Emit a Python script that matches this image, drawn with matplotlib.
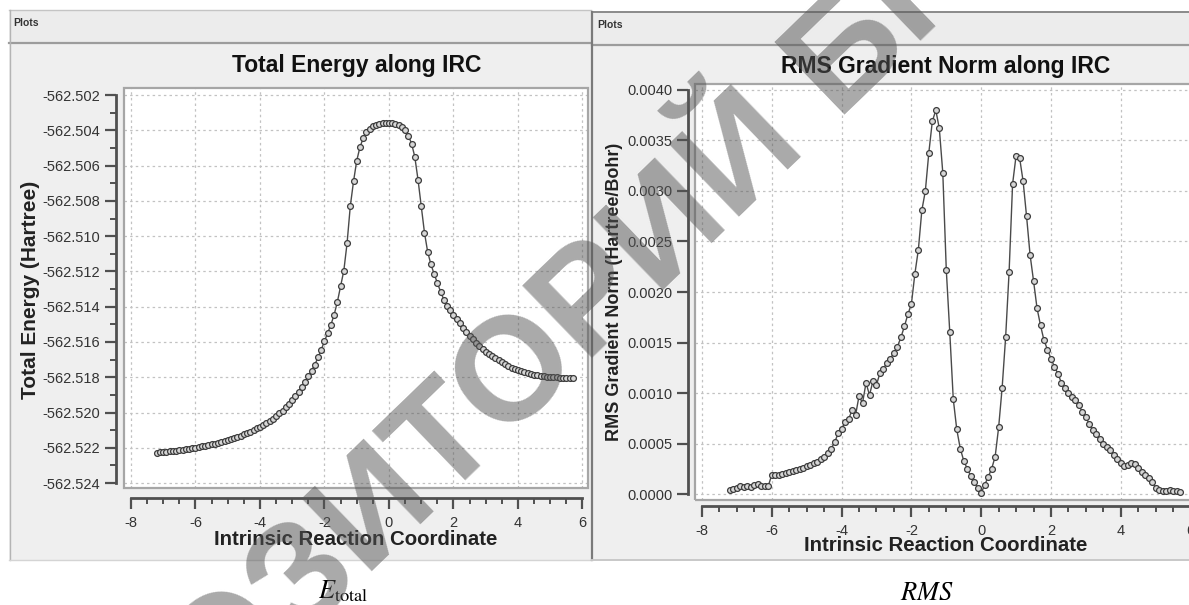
import matplotlib
matplotlib.use('Agg')
import matplotlib.pyplot as plt
from matplotlib.patches import Rectangle
from matplotlib.lines import Line2D
from matplotlib.ticker import MultipleLocator, FormatStrFormatter, FixedLocator

plt.rcParams['font.family'] = ['Liberation Sans', 'DejaVu Sans']
plt.rcParams['axes.unicode_minus'] = False
plt.rcParams['mathtext.fontset'] = 'stix'

# ---------------- data ----------------
IRC = [-7.2, -7.1, -7.0, -6.9, -6.8, -6.7, -6.6, -6.5, -6.4, -6.3,
       -6.2, -6.1, -6.0, -5.9, -5.8, -5.7, -5.6, -5.5, -5.4, -5.3,
       -5.2, -5.1, -5.0, -4.9, -4.8, -4.7, -4.6, -4.5, -4.4, -4.3,
       -4.2, -4.1, -4.0, -3.9, -3.8, -3.7, -3.6, -3.5, -3.4, -3.3,
       -3.2, -3.1, -3.0, -2.9, -2.8, -2.7, -2.6, -2.5, -2.4, -2.3,
       -2.2, -2.1, -2.0, -1.9, -1.8, -1.7, -1.6, -1.5, -1.4, -1.3,
       -1.2, -1.1, -1.0, -0.9, -0.8, -0.7, -0.6, -0.5, -0.4, -0.3,
       -0.2, -0.1, 0.0, 0.1, 0.2, 0.3, 0.4, 0.5, 0.6, 0.7,
       0.8, 0.9, 1.0, 1.1, 1.2, 1.3, 1.4, 1.5, 1.6, 1.7,
       1.8, 1.9, 2.0, 2.1, 2.2, 2.3, 2.4, 2.5, 2.6, 2.7,
       2.8, 2.9, 3.0, 3.1, 3.2, 3.3, 3.4, 3.5, 3.6, 3.7,
       3.8, 3.9, 4.0, 4.1, 4.2, 4.3, 4.4, 4.5, 4.6, 4.7,
       4.8, 4.9, 5.0, 5.1, 5.2, 5.3, 5.4, 5.5, 5.6, 5.7]

E_TOTAL = [-562.52227, -562.52226, -562.52225, -562.52223, -562.52221, -562.52219, -562.52217, -562.52214, -562.52211, -562.52208,
           -562.52205, -562.52202, -562.52199, -562.52196, -562.52192, -562.52188, -562.52184, -562.52180, -562.52176, -562.52172,
           -562.52167, -562.52162, -562.52156, -562.52150, -562.52144, -562.52138, -562.52131, -562.52124, -562.52116, -562.52108,
           -562.52099, -562.52090, -562.52080, -562.52070, -562.52060, -562.52047, -562.52034, -562.52020, -562.52005, -562.51989,
           -562.51971, -562.51952, -562.51931, -562.51909, -562.51884, -562.51856, -562.51825, -562.51793, -562.51762, -562.51728,
           -562.51688, -562.51643, -562.51595, -562.51548, -562.51502, -562.51445, -562.51372, -562.51285, -562.51195, -562.51040,
           -562.50830, -562.50690, -562.50572, -562.50495, -562.50445, -562.50412, -562.50390, -562.50376, -562.50368, -562.50363,
           -562.50361, -562.50360, -562.50360, -562.50361, -562.50364, -562.50370, -562.50382, -562.50400, -562.50430, -562.50475,
           -562.50550, -562.50680, -562.50830, -562.50980, -562.51090, -562.51160, -562.51215, -562.51265, -562.51315, -562.51360,
           -562.51395, -562.51420, -562.51445, -562.51470, -562.51495, -562.51518, -562.51542, -562.51566, -562.51586, -562.51605,
           -562.51624, -562.51642, -562.51655, -562.51667, -562.51680, -562.51693, -562.51705, -562.51716, -562.51726, -562.51736,
           -562.51745, -562.51753, -562.51760, -562.51766, -562.51772, -562.51778, -562.51783, -562.51787, -562.51790, -562.51793,
           -562.51795, -562.51797, -562.51799, -562.51800, -562.51801, -562.51802, -562.51803, -562.51803, -562.51804, -562.51805]

RMS_GRAD = [0.00004, 0.00005, 0.00006, 0.00008, 0.00007, 0.00008, 0.00007, 0.00009, 0.00010, 0.00008,
            0.00008, 0.00008, 0.00019, 0.00019, 0.00019, 0.00020, 0.00021, 0.00022, 0.00023, 0.00024,
            0.00025, 0.00026, 0.00028, 0.00029, 0.00031, 0.00032, 0.00035, 0.00037, 0.00041, 0.00045,
            0.00051, 0.00060, 0.00064, 0.00071, 0.00074, 0.00083, 0.00078, 0.00097, 0.00090, 0.00110,
            0.00098, 0.00112, 0.00108, 0.00120, 0.00124, 0.00130, 0.00134, 0.00140, 0.00146, 0.00155,
            0.00166, 0.00178, 0.00188, 0.00218, 0.00242, 0.00281, 0.00300, 0.00338, 0.00369, 0.00380,
            0.00362, 0.00318, 0.00222, 0.00160, 0.00094, 0.00064, 0.00045, 0.00033, 0.00025, 0.00018,
            0.00012, 0.00006, 0.00001, 0.00009, 0.00017, 0.00025, 0.00037, 0.00066, 0.00105, 0.00155,
            0.00220, 0.00307, 0.00335, 0.00333, 0.00310, 0.00275, 0.00237, 0.00211, 0.00184, 0.00167,
            0.00152, 0.00143, 0.00134, 0.00126, 0.00119, 0.00110, 0.00105, 0.00100, 0.00096, 0.00093,
            0.00088, 0.00081, 0.00076, 0.00069, 0.00063, 0.00059, 0.00054, 0.00050, 0.00047, 0.00044,
            0.00039, 0.00035, 0.00031, 0.00028, 0.00029, 0.00031, 0.00030, 0.00026, 0.00022, 0.00019,
            0.00016, 0.00012, 0.00006, 0.00004, 0.00003, 0.00003, 0.00004, 0.00003, 0.00003, 0.00002]

X_TICKS = [-8, -6, -4, -2, 0, 2, 4, 6]
E_TICKS = [-562.524, -562.522, -562.520, -562.518, -562.516, -562.514, -562.512,
           -562.510, -562.508, -562.506, -562.504, -562.502]
RMS_TICKS = [0.0, 0.0005, 0.0010, 0.0015, 0.0020, 0.0025, 0.0030, 0.0035, 0.0040]

TITLE_E = 'Total Energy along IRC'
TITLE_RMS = 'RMS Gradient Norm along IRC'
XLABEL = 'Intrinsic Reaction Coordinate'
YLABEL_E = 'Total Energy (Hartree)'
YLABEL_RMS = 'RMS Gradient Norm (Hartree/Bohr)'
CAPTION_E = r'$E_{\mathrm{total}}$'
CAPTION_RMS = r'$RMS$'
WATERMARK = 'РЕПОЗИТОРИЙ БГТУ'

# ---------------- figure ----------------
W, H = 1189, 605
fig = plt.figure(figsize=(W / 100, H / 100), dpi=100)
fig.patch.set_facecolor('white')


def fx(x):
    return x / W


def fy(y):
    return 1 - y / H


def rect(x0, y0, x1, y1, **kw):
    fig.add_artist(Rectangle((fx(x0), fy(y1)), (x1 - x0) / W, (y1 - y0) / H,
                             transform=fig.transFigure, **kw))


def hline(x0, x1, y, **kw):
    fig.add_artist(Line2D([fx(x0), fx(x1)], [fy(y), fy(y)], transform=fig.transFigure, **kw))


def vline(x, y0, y1, **kw):
    fig.add_artist(Line2D([fx(x), fx(x)], [fy(y0), fy(y1)], transform=fig.transFigure, **kw))


# window panels
rect(9, 10, 591, 560, facecolor='#efefef', edgecolor='none', zorder=-5)
rect(9, 10, 591, 43, facecolor='#ececec', edgecolor='none', zorder=-4)
hline(9, 591, 10, color='#c4c4c4', lw=1, zorder=-3)
hline(9, 591, 43, color='#9c9c9c', lw=1.6, zorder=-3)
vline(10, 10, 560, color='#b4b4b4', lw=1, zorder=-3)
hline(9, 591, 560, color='#d4d4d4', lw=1, zorder=-3)

rect(592, 12, 1189, 560, facecolor='#efefef', edgecolor='none', zorder=-5)
rect(592, 12, 1189, 45, facecolor='#ececec', edgecolor='none', zorder=-4)
hline(592, 1189, 12, color='#8a8a8a', lw=1.4, zorder=-3)
hline(592, 1189, 45, color='#9c9c9c', lw=1.6, zorder=-3)
vline(592, 12, 560, color='#7a7a7a', lw=1.6, zorder=-3)
hline(592, 1189, 560, color='#c8c8c8', lw=1.4, zorder=-3)

fig.text(fx(13), fy(23), 'Plots', fontsize=7.5, color='#333333', ha='left', va='center',
         fontweight='bold')
fig.text(fx(597), fy(25), 'Plots', fontsize=7.5, color='#333333', ha='left', va='center',
         fontweight='bold')

LINE_KW = dict(color='#4a4a4a', lw=1.0, marker='o', ms=4.2, mfc='#d6d6d6',
               mec='#3c3c3c', mew=0.9, zorder=3)


def style_axes(ax, yticks, yfmt, y_out, x_out, yminor):
    ax.set_facecolor('white')
    ax.grid(True, which='major', color='#c2c2c2', lw=0.9, linestyle=(0, (2, 2.5)))
    ax.set_axisbelow(True)
    for s in ('top', 'right'):
        ax.spines[s].set_visible(False)
    ax.spines['left'].set_position(('outward', y_out))
    ax.spines['bottom'].set_position(('outward', x_out))
    ax.spines['left'].set_bounds(yticks[0], yticks[-1])
    ax.spines['bottom'].set_bounds(X_TICKS[0], X_TICKS[-1])
    for s in ('left', 'bottom'):
        ax.spines[s].set_linewidth(2.0)
        ax.spines[s].set_color('#505050')
    ax.xaxis.set_major_locator(FixedLocator(X_TICKS))
    ax.xaxis.set_minor_locator(MultipleLocator(0.5))
    ax.yaxis.set_major_locator(FixedLocator(yticks))
    if yminor:
        ax.yaxis.set_minor_locator(MultipleLocator(yminor))
    ax.yaxis.set_major_formatter(FormatStrFormatter(yfmt))
    ax.xaxis.set_major_formatter(FormatStrFormatter('%d'))
    ax.tick_params(which='major', direction='out', length=8, width=1.6, color='#505050',
                   labelsize=10.5, labelcolor='#333333')
    ax.tick_params(which='minor', direction='out', length=4.5, width=1.4, color='#505050')
    ax.tick_params(axis='y', which='both', pad=3)
    ax.tick_params(axis='x', which='major', pad=5)
    ax.add_patch(Rectangle((0, 0), 1, 1, transform=ax.transAxes, fill=False,
                           edgecolor='#a6a6a6', lw=1.6, clip_on=False, zorder=4))


# ---- left: total energy ----
axL = fig.add_axes([fx(124), fy(488), (588 - 124) / W, (488 - 88) / H])
axL.set_xlim(-8.217, 6.171)
axL.set_ylim(-562.52428, -562.5016)
axL.plot(IRC, E_TOTAL, **LINE_KW)
style_axes(axL, E_TICKS, '%.3f', 6, 7, 0.001)

fig.text(fx(357), fy(72), TITLE_E, fontsize=16.5, fontweight='bold', color='#111111',
         ha='center', va='baseline')
fig.text(fx(356), fy(545), XLABEL, fontsize=14.7, fontweight='bold', color='#222222',
         ha='center', va='baseline')
fig.text(fx(31), fy(290), YLABEL_E, fontsize=15, fontweight='bold', color='#222222',
         ha='center', va='center', rotation=90)

# ---- right: RMS gradient ----
axR = fig.add_axes([fx(695), fy(500), (1196 - 695) / W, (500 - 84) / H])
axR.set_xlim(-8.2, 6.155)
axR.set_ylim(-0.0000594, 0.0040594)
axR.plot(IRC, RMS_GRAD, **LINE_KW)
style_axes(axR, RMS_TICKS, '%.4f', 5, 4, None)

fig.text(fx(946), fy(73), TITLE_RMS, fontsize=16.5, fontweight='bold', color='#111111',
         ha='center', va='baseline')
fig.text(fx(946), fy(551), XLABEL, fontsize=14.7, fontweight='bold', color='#222222',
         ha='center', va='baseline')
fig.text(fx(614), fy(292), YLABEL_RMS, fontsize=13, fontweight='bold', color='#222222',
         ha='center', va='center', rotation=90)

# ---- captions ----
fig.text(fx(318), fy(598), CAPTION_E, fontsize=19, color='black', ha='left', va='baseline')
fig.text(fx(927), fy(600), CAPTION_RMS, fontsize=19, color='black', ha='center', va='baseline')

# ---- watermark ----
fig.text(fx(526), fy(370), WATERMARK, fontsize=106, fontweight='bold', color='#555555',
         alpha=0.5, rotation=44, rotation_mode='anchor', ha='center', va='center', zorder=20)

fig.savefig('out.png', dpi=100, facecolor='white')
